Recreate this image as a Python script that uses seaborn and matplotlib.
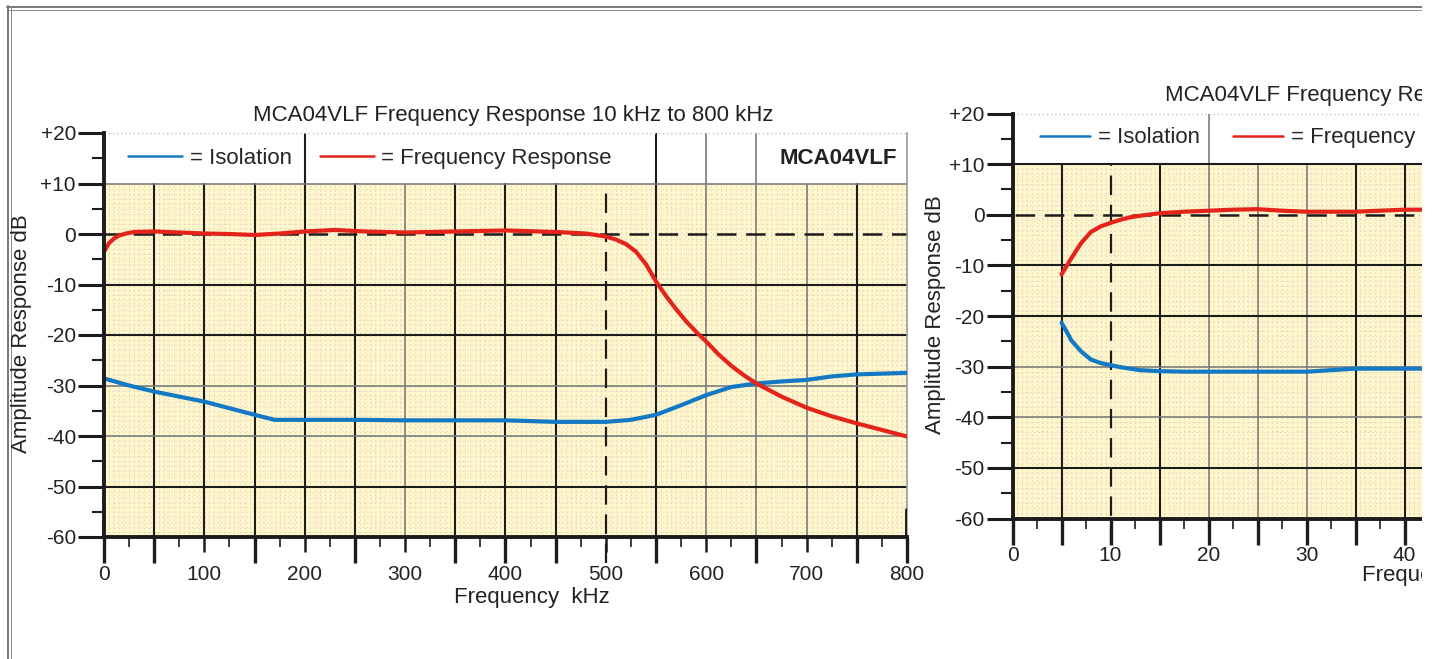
import numpy as np
import pandas as pd
import matplotlib
matplotlib.use("Agg")
import matplotlib.pyplot as plt
import seaborn as sns
from matplotlib.lines import Line2D
from matplotlib.patches import Rectangle

# ---- chart 1 : 10 kHz to 800 kHz  (kHz, dB) ----
iso_khz = [0, 25, 50, 75, 100, 125, 150, 170, 200, 250, 300, 350, 400, 450, 500,
           525, 550, 575, 600, 625, 650, 675, 700, 725, 750, 800]
iso_db = [-28.6, -30.0, -31.2, -32.2, -33.2, -34.5, -35.8, -36.8, -36.8, -36.8, -36.9,
          -36.9, -36.9, -37.2, -37.2, -36.8, -35.8, -33.9, -31.9, -30.3, -29.6, -29.2,
          -28.9, -28.2, -27.8, -27.5]
fr_khz = [0, 5, 10, 15, 22, 30, 50, 75, 100, 125, 150, 175, 200, 230, 260, 300, 350,
          400, 450, 480, 500, 510, 520, 530, 540, 550, 560, 570, 580, 590, 600, 612,
          625, 637, 650, 675, 700, 725, 750, 775, 800]
fr_db = [-3.5, -1.8, -0.9, -0.3, 0.1, 0.4, 0.5, 0.3, 0.1, 0.0, -0.2, 0.1, 0.5, 0.8, 0.5,
         0.3, 0.5, 0.7, 0.4, 0.1, -0.5, -1.1, -2.0, -3.5, -6.0, -9.4, -12.3, -14.9,
         -17.3, -19.4, -21.3, -23.8, -26.1, -27.9, -29.6, -32.2, -34.4, -36.1, -37.5,
         -38.8, -40.1]

# ---- chart 2 : low end (kHz, dB) ----
iso2_khz = [5, 5.5, 6, 7, 8, 9, 10, 11, 12, 13, 15, 17.5, 20, 25, 30, 32.5, 35, 37.5, 40, 42]
iso2_db = [-21.3, -23.0, -24.8, -27.0, -28.6, -29.3, -29.7, -30.1, -30.4, -30.7, -30.9,
           -31.0, -31.0, -31.0, -31.0, -30.7, -30.4, -30.4, -30.4, -30.4]
fr2_khz = [5, 6, 7, 8, 9, 10, 11, 12, 13, 15, 17.5, 20, 22.5, 25, 27.5, 30, 32.5, 35,
           37.5, 40, 42]
fr2_db = [-11.8, -8.6, -5.6, -3.4, -2.3, -1.6, -1.0, -0.5, -0.2, 0.3, 0.6, 0.8, 1.0, 1.1,
          0.8, 0.6, 0.6, 0.6, 0.8, 1.0, 1.0]

y_ticks = [20, 10, 0, -10, -20, -30, -40, -50, -60]
y_labels = ["+20", "+10", "0", "-10", "-20", "-30", "-40", "-50", "-60"]
x1_ticks = [0, 100, 200, 300, 400, 500, 600, 700, 800]
x2_ticks = [0, 10, 20, 30, 40]
series = ["= Isolation", "= Frequency Response"]
title1 = "MCA04VLF Frequency Response 10 kHz to 800 kHz"
title2 = "MCA04VLF Frequency Response"
model = "MCA04VLF"
xlab = "Frequency  kHz"
ylab = "Amplitude Response dB"

BLUE = "#1479c4"
RED = "#e4231b"
YELLOW = "#fef7cc"
BLK = "#1c1c1c"
GRY = "#7c7c7c"

sns.set_style("white")
plt.rcParams["font.family"] = ["Liberation Sans", "DejaVu Sans"]
plt.rcParams["lines.scale_dashes"] = False

W, H = 1438, 659
fig = plt.figure(figsize=(W / 100, H / 100), dpi=100)
fig.patch.set_facecolor("white")


def rect(x0, x1, ytop, ybot):
    return [x0 / W, 1 - ybot / H, (x1 - x0) / W, (ybot - ytop) / H]


def fx(px):
    return px / W


def fy(py):
    return 1 - py / H


def panel(ax, df, xmax, step, vgrid, hgrid, dash_x, leg_xy, hlen, colsp,
          minor_long, major_long, major_len, xpad):
    ax.set_facecolor("white")
    ax.axhspan(-60, 10, color=YELLOW, lw=0, zorder=0)
    # graph paper dots
    ax.vlines(np.arange(step, xmax, step), -60, 10, colors="#efc9c2", lw=0.7,
              linestyles=(0, (1, 2)), zorder=0.5)
    ax.hlines(np.arange(-59, 10, 1), 0, xmax, colors="#ddd5c6", lw=0.7,
              linestyles=(0, (1, 2)), zorder=0.5)

    for x, c, full in vgrid:
        ax.axvline(x, ymin=0, ymax=1 if full else 70 / 80, color=c,
                   lw=1.5 if c == BLK else 1.2, zorder=1)
    for y, c in hgrid:
        ax.axhline(y, color=c, lw=1.5 if c == BLK else 1.2, zorder=1)
    ax.axhline(20, color="#c8b8b8", lw=1, ls=(0, (1, 2)), zorder=1)
    ax.axhline(0, xmin=-26 / 409 if xmax < 100 else 0, color=BLK, lw=1.8,
               dashes=(14, 7), zorder=1, clip_on=False)
    ax.axvline(dash_x, ymin=-26 / 404, ymax=70 / 80, color=BLK, lw=1.6,
               dashes=(14, 7), zorder=1, clip_on=False)

    sns.lineplot(data=df, x="freq", y="dB", hue="series", hue_order=series,
                 palette=[BLUE, RED], linewidth=3, errorbar=None, ax=ax, zorder=5)

    handles = ax.get_legend().legend_handles
    for h in handles:
        h.set_linewidth(1.8)
    ax.legend(handles, series, ncol=2, loc="center left", bbox_to_anchor=leg_xy,
              bbox_transform=ax.transData, frameon=False, fontsize=16,
              handlelength=hlen, handletextpad=0.35, columnspacing=colsp,
              borderpad=0, borderaxespad=0)

    ax.set_xlim(0, xmax)
    ax.set_ylim(-60, 20)
    ax.set_xlabel("")
    ax.set_ylabel("")

    ax.set_yticks(y_ticks, y_labels)
    ax.set_yticks(np.arange(-55, 20, 10), minor=True)
    ax.tick_params(axis="y", which="major", length=18.7, width=2.2, pad=1.5,
                   labelsize=15, color=BLK, labelcolor="#222222", left=True)
    ax.tick_params(axis="y", which="minor", length=8.6, width=1.5, color=BLK, left=True)

    xt = x1_ticks if xmax > 100 else x2_ticks
    ax.set_xticks(xt, [str(t) for t in xt])
    ax.set_xticks(minor_long[0], minor=True)
    ax.tick_params(axis="x", which="major", length=major_len, width=1.8, pad=xpad,
                   labelsize=15, color=BLK, labelcolor="#222222", bottom=True)
    ax.tick_params(axis="x", which="minor", length=7.5, width=1.2, color=BLK,
                   bottom=True)
    mlocs = minor_long[0]
    for t, loc in zip(ax.xaxis.get_minor_ticks(len(mlocs)), mlocs):
        if loc in minor_long[1]:
            t.tick1line.set_markersize(18.7)
            t.tick1line.set_markeredgewidth(2.4)
    for t, loc in zip(ax.xaxis.get_major_ticks(len(xt)), xt):
        if loc in major_long:
            t.tick1line.set_markersize(18.7)
            t.tick1line.set_markeredgewidth(2.4)

    for s in ["left", "bottom"]:
        ax.spines[s].set_color(BLK)
        ax.spines[s].set_linewidth(2.8)
        ax.spines[s].set_zorder(6)
    ax.spines["top"].set_visible(False)


df1 = pd.concat([
    pd.DataFrame({"freq": iso_khz, "dB": iso_db, "series": series[0]}),
    pd.DataFrame({"freq": fr_khz, "dB": fr_db, "series": series[1]}),
])
df2 = pd.concat([
    pd.DataFrame({"freq": iso2_khz, "dB": iso2_db, "series": series[0]}),
    pd.DataFrame({"freq": fr2_khz, "dB": fr2_db, "series": series[1]}),
])

# ---------- chart 1 ----------
ax1 = fig.add_axes(rect(104, 907, 133, 537))
v1 = [(50, BLK, False), (100, BLK, False), (150, BLK, False), (200, BLK, True),
      (250, BLK, False), (300, GRY, False), (350, BLK, False), (400, BLK, False),
      (450, BLK, False), (550, BLK, True), (600, GRY, True), (650, GRY, True),
      (700, GRY, False), (750, BLK, False)]
h1 = [(10, GRY), (-10, BLK), (-20, BLK), (-30, GRY), (-40, GRY), (-50, BLK)]
m1 = [x for x in range(25, 800, 25) if x % 100]
panel(ax1, df1, 800, 5, v1, h1, 500, (24, 15), 2.43, 1.25,
      (m1, [x for x in m1 if x % 50 == 0]), [0, 400, 800], 10.5, 9.5)
ax1.spines["right"].set_color("#9a9a9a")
ax1.spines["right"].set_linewidth(1.2)
ax1.axvline(800, ymin=0, ymax=5.3 / 80, color=BLK, lw=2.8, zorder=6)
ax1.text(790, 15, model, ha="right", va="center", fontsize=16, fontweight="bold",
         color="#222222")

fig.text(fx(513), fy(116), title1, ha="center", va="center", fontsize=16, color="#222222")
fig.text(fx(532), fy(597), xlab, ha="center", va="center", fontsize=16, color="#222222")
fig.text(fx(22), fy(334), ylab, ha="center", va="center", rotation=90, fontsize=16,
         color="#222222")

# ---------- chart 2 ----------
ax2 = fig.add_axes(rect(1012.5, 1422, 113.5, 518.5))
v2 = [(5, BLK, False), (15, BLK, False), (20, GRY, True), (25, GRY, False),
      (30, GRY, False), (35, BLK, False), (40, BLK, False)]
h2 = [(10, BLK), (-10, BLK), (-20, BLK), (-30, GRY), (-40, GRY), (-50, BLK)]
m2 = [x for x in np.arange(2.5, 42, 2.5) if x % 10]
panel(ax2, df2, 409.5 / 9.8, 0.5, v2, h2, 10, (2.8, 15.2), 2.25, 1.5,
      (m2, [x for x in m2 if x % 5 == 0]), x2_ticks, 18.7, 1)
ax2.spines["right"].set_visible(False)

fig.text(fx(1165), fy(95), title2, ha="left", va="center", fontsize=16, color="#222222")
fig.text(fx(1362), fy(576), xlab, ha="left", va="center", fontsize=16, color="#222222")
fig.text(fx(935), fy(315), ylab, ha="center", va="center", rotation=90, fontsize=16,
         color="#222222")

# ---------- outer frame of the screenshot ----------
for y, lw, c in [(6.5, 2, "#7a7a7a"), (9.5, 1, "#8c8c8c")]:
    fig.add_artist(Line2D([fx(7), fx(1422)], [fy(y), fy(y)], lw=lw * 0.72, color=c))
for x, lw, c in [(7.5, 2, "#7a7a7a"), (10.5, 1, "#8c8c8c")]:
    fig.add_artist(Line2D([fx(x), fx(x)], [fy(6), 0], lw=lw * 0.72, color=c))
fig.add_artist(Rectangle((fx(1422), 0), fx(W) - fx(1422), 1, transform=fig.transFigure,
                         facecolor="white", edgecolor="none", zorder=20))

fig.savefig("out.png", dpi=100)
